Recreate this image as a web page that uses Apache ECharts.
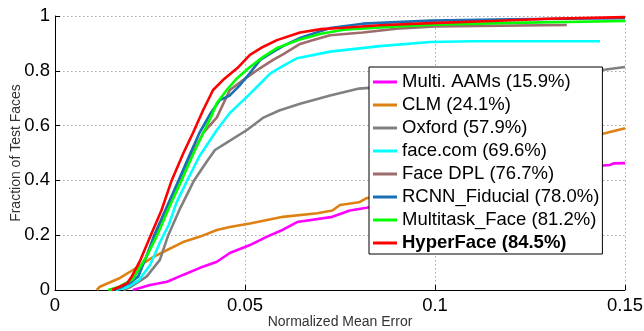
<!DOCTYPE html>
<html>
<head>
<meta charset="utf-8">
<script src="https://cdn.jsdelivr.net/npm/echarts@6/dist/echarts.min.js"></script>
<style>
html, body { margin: 0; padding: 0; background: #fff; }
#chart { width: 644px; height: 331px; }
</style>
</head>
<body>
<div id="chart"></div>
<script>
// tick values
const xTicks = [0, 0.05, 0.1, 0.15];
const yTicks = [0, 0.2, 0.4, 0.6, 0.8, 1];

// legend names, in plot order (last one on top)
const names = ['Multi. AAMs (15.9%)', 'CLM (24.1%)', 'Oxford (57.9%)', 'face.com (69.6%)',
    'Face DPL (76.7%)', 'RCNN_Fiducial (78.0%)', 'Multitask_Face (81.2%)', 'HyperFace (84.5%)'];

// cumulative error curves [normalized mean error, fraction]
const multiAAMs = [[0.0205,0],[0.0250,0.018],[0.0295,0.030],[0.0337,0.055],[0.0380,0.080],[0.0426,0.103],[0.0460,0.135],[0.0513,0.164],[0.0558,0.195],[0.0600,0.220],[0.0637,0.248],[0.0730,0.267],[0.0776,0.290],[0.0820,0.300],[0.1000,0.350],[0.1200,0.400],[0.1400,0.450],[0.1460,0.456],[0.1470,0.462],[0.1500,0.463]];
const clm = [[0.0110,0],[0.0118,0.012],[0.0171,0.044],[0.0205,0.073],[0.0258,0.120],[0.0295,0.146],[0.0337,0.175],[0.0380,0.194],[0.0426,0.219],[0.0460,0.230],[0.0513,0.243],[0.0600,0.267],[0.0690,0.280],[0.0730,0.290],[0.0750,0.310],[0.0800,0.320],[0.0820,0.335],[0.1000,0.400],[0.1200,0.480],[0.1380,0.550],[0.1450,0.573],[0.1500,0.590]];
const oxford = [[0.0180,0],[0.0200,0.012],[0.0241,0.049],[0.0276,0.110],[0.0298,0.200],[0.0330,0.300],[0.0366,0.400],[0.0400,0.470],[0.0421,0.511],[0.0450,0.536],[0.0505,0.584],[0.0547,0.628],[0.0590,0.655],[0.0645,0.680],[0.0724,0.710],[0.0800,0.735],[0.0900,0.745],[0.1100,0.770],[0.1300,0.790],[0.1450,0.805],[0.1500,0.814]];
const faceCom = [[0.0160,0],[0.0190,0.010],[0.0220,0.035],[0.0250,0.090],[0.0275,0.170],[0.0300,0.240],[0.0320,0.320],[0.0348,0.400],[0.0380,0.488],[0.0426,0.584],[0.0460,0.646],[0.0505,0.705],[0.0545,0.760],[0.0566,0.790],[0.0590,0.810],[0.0637,0.846],[0.0724,0.870],[0.0855,0.890],[0.0987,0.905],[0.1100,0.908],[0.1434,0.908]];
const faceDPL = [[0.0145,0],[0.0175,0.010],[0.0205,0.040],[0.0240,0.120],[0.0266,0.200],[0.0297,0.300],[0.0330,0.400],[0.0362,0.500],[0.0390,0.573],[0.0426,0.630],[0.0460,0.730],[0.0495,0.766],[0.0540,0.810],[0.0574,0.840],[0.0600,0.860],[0.0645,0.898],[0.0680,0.912],[0.0724,0.930],[0.0810,0.940],[0.0910,0.955],[0.1000,0.962],[0.1347,0.967]];
const rcnn = [[0.0150,0],[0.0170,0.008],[0.0197,0.025],[0.0219,0.049],[0.0240,0.120],[0.0261,0.200],[0.0290,0.290],[0.0325,0.400],[0.0355,0.495],[0.0380,0.573],[0.0410,0.646],[0.0434,0.693],[0.0460,0.710],[0.0487,0.748],[0.0513,0.792],[0.0540,0.840],[0.0574,0.869],[0.0600,0.890],[0.0645,0.920],[0.0724,0.956],[0.0810,0.972],[0.0990,0.983],[0.1200,0.988],[0.1500,0.992]];
const multitask = [[0.0140,0],[0.0170,0.012],[0.0205,0.040],[0.0240,0.120],[0.0269,0.200],[0.0300,0.300],[0.0333,0.400],[0.0365,0.500],[0.0390,0.573],[0.0410,0.630],[0.0426,0.682],[0.0452,0.730],[0.0480,0.774],[0.0513,0.814],[0.0547,0.850],[0.0584,0.883],[0.0640,0.912],[0.0700,0.935],[0.0760,0.950],[0.0900,0.962],[0.1000,0.968],[0.1200,0.975],[0.1500,0.982]];
const hyperFace = [[0.0150,0],[0.0170,0.012],[0.0190,0.025],[0.0202,0.049],[0.0225,0.110],[0.0252,0.200],[0.0280,0.290],[0.0307,0.400],[0.0338,0.500],[0.0363,0.573],[0.0390,0.657],[0.0416,0.730],[0.0442,0.766],[0.0480,0.810],[0.0513,0.858],[0.0547,0.887],[0.0584,0.912],[0.0645,0.940],[0.0700,0.952],[0.0760,0.957],[0.0855,0.966],[0.0990,0.974],[0.1150,0.982],[0.1300,0.990],[0.1500,0.996]];

const curves = [multiAAMs, clm, oxford, faceCom, faceDPL, rcnn, multitask, hyperFace];
const colors = ['#ff00ff', '#df8012', '#808080', '#00ffff', '#9e6c6c', '#1a6eb6', '#00ff00', '#ff0000'];

const font = '"Liberation Sans", Arial, sans-serif';
const chart = echarts.init(document.getElementById('chart'), null, {renderer: 'canvas'});

let series = curves.map(function(d, i){
    return {
        name: names[i],
        type: 'line',
        data: d,
        showSymbol: false,
        symbol: 'none',
        lineStyle: {color: colors[i], width: 2.6},
        itemStyle: {color: colors[i]},
        z: 2 + i / 10
    };
});

chart.setOption({
    animation: false,
    grid: {left: 55, right: 19, top: 16, bottom: 41, containLabel: false, outerBoundsMode: 'none'},
    legend: {
        orient: 'vertical',
        left: 369,
        top: 67,
        padding: [5, 3, 1, 4],
        itemGap: 3,
        itemWidth: 24,
        itemHeight: 3,
        icon: 'rect',
        backgroundColor: '#fff',
        borderColor: '#000',
        borderWidth: 1,
        textStyle: {fontFamily: font, fontSize: 18.5, color: '#000', lineHeight: 20},
        data: names.map(function(n, i){
            return i === names.length - 1 ? {name: n, textStyle: {fontWeight: 'bold'}} : {name: n};
        })
    },
    xAxis: {
        type: 'value',
        min: 0, max: 0.15, interval: 0.05,
        name: 'Normalized Mean Error',
        nameLocation: 'middle',
        nameGap: 25,
        nameMoveOverlap: false,
        nameTextStyle: {fontFamily: font, fontSize: 14, color: '#333'},
        axisLine: {lineStyle: {color: '#000', width: 1}},
        axisTick: {inside: true, length: 5, lineStyle: {color: '#000'}},
        axisLabel: {
            fontFamily: font, fontSize: 18.5, color: '#000', margin: 6,
            formatter: function(v){ return String(xTicks.find(t => Math.abs(t - v) < 1e-9) ?? v); }
        },
        splitLine: {show: true, lineStyle: {color: '#aaa', type: [1.5, 2.5], width: 1}}
    },
    yAxis: {
        type: 'value',
        min: 0, max: 1, interval: 0.2,
        name: 'Fraction of Test Faces',
        nameLocation: 'middle',
        nameGap: 32,
        nameMoveOverlap: false,
        nameTextStyle: {fontFamily: font, fontSize: 14, color: '#333'},
        axisLine: {show: true, lineStyle: {color: '#000', width: 1}},
        axisTick: {show: true, inside: true, length: 5, lineStyle: {color: '#000'}},
        axisLabel: {
            fontFamily: font, fontSize: 18.5, color: '#000', margin: 5,
            formatter: function(v){ return String(yTicks.find(t => Math.abs(t - v) < 1e-9) ?? v); }
        },
        splitLine: {show: true, lineStyle: {color: '#aaa', type: [1.5, 2.5], width: 1}}
    },
    series: series
});
</script>
</body>
</html>
